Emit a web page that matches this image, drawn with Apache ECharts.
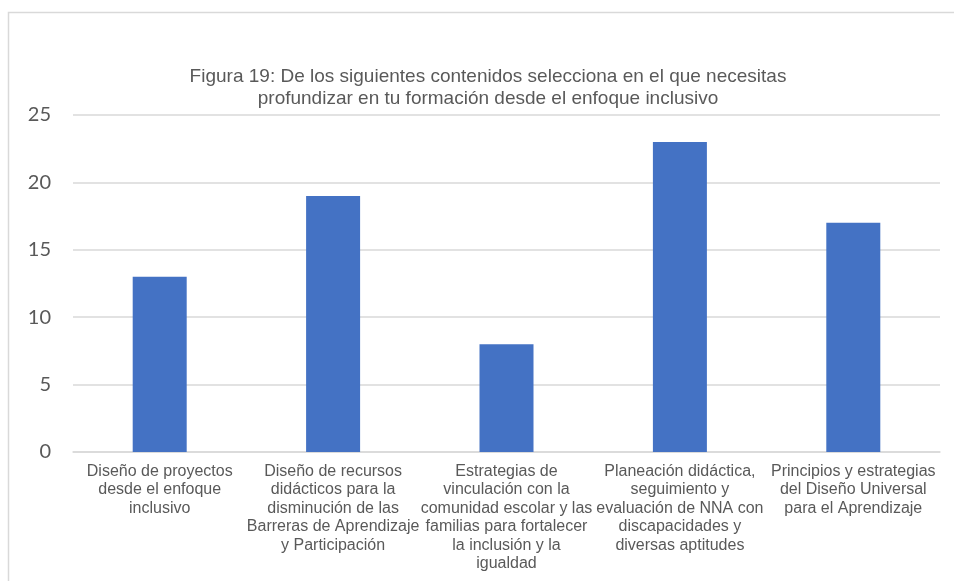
<!DOCTYPE html>
<html>
<head>
<meta charset="utf-8">
<script src="https://cdn.jsdelivr.net/npm/echarts@6/dist/echarts.min.js"></script>
<style>html,body{margin:0;padding:0;background:#fff}#c{width:954px;height:581px}</style>
</head>
<body>
<div id="c"></div>
<script>
const titleText = "Figura 19: De los siguientes contenidos selecciona en el que necesitas\nprofundizar en tu formación desde el enfoque inclusivo";
const categories = [
  "Diseño de proyectos\ndesde el enfoque\ninclusivo",
  "Diseño de recursos\ndidácticos para la\ndisminución de las\nBarreras de Aprendizaje\ny Participación",
  "Estrategias de\nvinculación con la\ncomunidad escolar y las\nfamilias para fortalecer\nla inclusión y la\nigualdad",
  "Planeación didáctica,\nseguimiento y\nevaluación de NNA con\ndiscapacidades y\ndiversas aptitudes",
  "Principios y estrategias\ndel Diseño Universal\npara el Aprendizaje"
];
const values = [13, 19, 8, 23, 17];
const yTicks = { min: 0, max: 25, interval: 5 };

const chart = echarts.init(document.getElementById('c'), null, { renderer: 'canvas' });
chart.setOption({
  animation: false,
  backgroundColor: '#ffffff',
  graphic: [{
    type: 'polyline',
    shape: { points: [[8.5, 600], [8.5, 12.5], [960, 12.5]] },
    style: { stroke: '#d9d9d9', lineWidth: 1.5, fill: null },
    silent: true
  }],
  title: {
    text: titleText,
    left: 483,
    top: 61,
    textAlign: 'center',
    textStyle: {
      fontFamily: '"Liberation Sans", Arial, sans-serif',
      fontSize: 19,
      fontWeight: 'normal',
      color: '#595959',
      lineHeight: 22
    }
  },
  grid: { left: 73, right: 14, top: 115, bottom: 129, containLabel: false },
  xAxis: {
    type: 'category',
    data: categories,
    axisLine: { lineStyle: { color: '#d9d9d9', width: 1.5 } },
    axisTick: { show: false },
    axisLabel: {
      interval: 0,
      margin: 10,
      fontFamily: '"Liberation Sans", Arial, sans-serif',
      fontSize: 16,
      lineHeight: 18.5,
      color: '#595959',
      align: 'center'
    }
  },
  yAxis: {
    type: 'value',
    min: yTicks.min,
    max: yTicks.max,
    interval: yTicks.interval,
    axisLine: { show: false },
    axisTick: { show: false },
    splitLine: { lineStyle: { color: '#d9d9d9', width: 1.5 } },
    axisLabel: {
      margin: 22,
      fontFamily: 'Lato, "Open Sans", sans-serif',
      fontSize: 20,
      color: '#595959'
    }
  },
  series: [{
    type: 'bar',
    data: values,
    barWidth: 54,
    itemStyle: { color: '#4472c4' }
  }]
});
</script>
</body>
</html>
